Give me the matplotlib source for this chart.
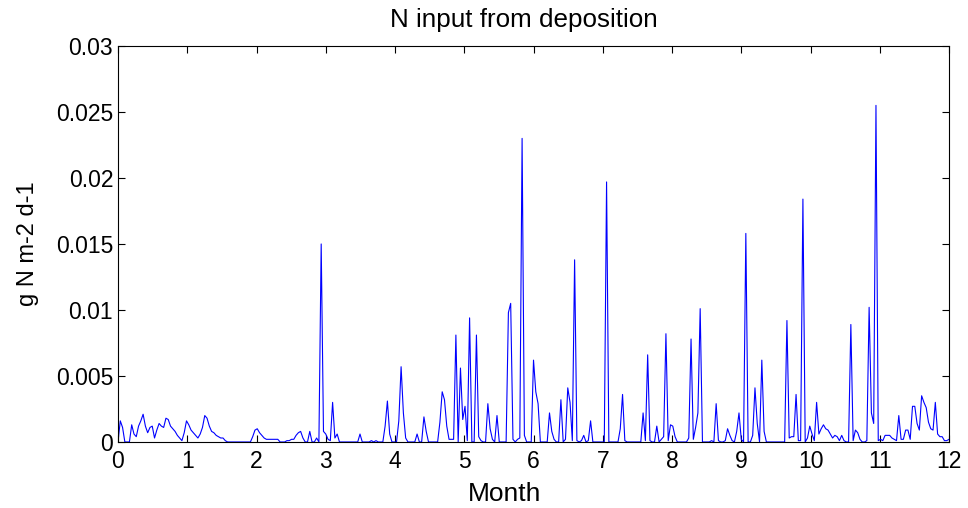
import numpy as np
import matplotlib
matplotlib.use('Agg')
import matplotlib.pyplot as plt

# daily N deposition (g N m-2 d-1), days with no deposition are zero
wet_days = [1, 2, 6, 7, 8, 9, 10, 11, 12, 13, 14, 15, 16, 17, 18, 19, 20, 21, 22,
            23, 24, 25, 26, 27, 28, 29, 30, 31, 32, 33, 34, 35, 36, 37, 38, 39,
            40, 41, 42, 43, 44, 45, 46, 47, 59, 60, 61, 62, 63, 64, 65, 66, 67,
            68, 69, 70, 74, 75, 76, 77, 78, 79, 80, 81, 84, 87, 89, 90, 91, 92,
            93, 94, 95, 96, 106, 111, 113, 117, 118, 119, 123, 124, 125, 126,
            131, 134, 135, 141, 142, 143, 144, 145, 146, 147, 148, 150, 151, 152,
            153, 154, 157, 158, 159, 162, 163, 164, 166, 171, 172, 173, 175, 176,
            177, 178, 182, 183, 184, 189, 190, 191, 194, 196, 197, 198, 199, 200,
            201, 203, 204, 206, 207, 214, 220, 221, 222, 230, 231, 232, 233, 236,
            238, 239, 240, 241, 242, 243, 244, 250, 251, 252, 253, 254, 255, 260,
            262, 263, 266, 267, 268, 269, 271, 272, 273, 275, 278, 279, 280, 282,
            283, 293, 294, 295, 296, 297, 298, 299, 300, 302, 303, 304, 305, 306,
            307, 308, 309, 310, 311, 312, 313, 314, 315, 316, 317, 318, 321, 322,
            323, 324, 325, 328, 329, 330, 331, 332, 333, 334, 335, 336, 337, 338,
            339, 340, 341, 342, 343, 344, 345, 346, 347, 348, 349, 350, 351, 352,
            353, 354, 355, 356, 357, 358, 359, 360, 361, 362, 363, 364]
n_dep = [0.0016, 0.0011, 0.0013, 0.0006, 0.0004, 0.0012, 0.0016, 0.0021, 0.0012,
         0.0007, 0.0011, 0.0012, 0.0003, 0.0009, 0.0014, 0.0012, 0.0011, 0.0018,
         0.0017, 0.0012, 0.0010, 0.0008, 0.0005, 0.0003, 0.0001, 0.0007, 0.0016,
         0.0013, 0.0009, 0.0007, 0.0005, 0.0003, 0.0006, 0.0011, 0.0020, 0.0018,
         0.0012, 0.0008, 0.0007, 0.0005, 0.0004, 0.0003, 0.0003, 0.0001, 0.0004,
         0.0009, 0.0010, 0.0007, 0.0005, 0.0003, 0.0002, 0.0002, 0.0002, 0.0002,
         0.0002, 0.0002, 0.0001, 0.0001, 0.0002, 0.0002, 0.0005, 0.0007, 0.0008,
         0.0003, 0.0008, 0.0003, 0.0150, 0.0008, 0.0006, 0.0002, 0.0001, 0.0030,
         0.0003, 0.0006, 0.0006, 0.0001, 0.0001, 0.0012, 0.0031, 0.0006, 0.0016,
         0.0057, 0.0022, 0.0003, 0.0006, 0.0019, 0.0008, 0.0015, 0.0038, 0.0032,
         0.0012, 0.0002, 0.0002, 0.0002, 0.0081, 0.0056, 0.0017, 0.0027, 0.0001,
         0.0094, 0.0081, 0.0004, 0.0001, 0.0029, 0.0010, 0.0002, 0.0020, 0.0098,
         0.0105, 0.0002, 0.0002, 0.0003, 0.0230, 0.0005, 0.0062, 0.0038, 0.0029,
         0.0022, 0.0008, 0.0002, 0.0032, 0.0002, 0.0041, 0.0030, 0.0001, 0.0138,
         0.0001, 0.0001, 0.0005, 0.0001, 0.0016, 0.0197, 0.0010, 0.0036, 0.0001,
         0.0022, 0.0001, 0.0066, 0.0001, 0.0012, 0.0002, 0.0004, 0.0082, 0.0001,
         0.0013, 0.0012, 0.0004, 0.0003, 0.0078, 0.0002, 0.0011, 0.0022, 0.0101,
         0.0001, 0.0029, 0.0001, 0.0001, 0.0010, 0.0005, 0.0001, 0.0008, 0.0022,
         0.0002, 0.0158, 0.0005, 0.0041, 0.0014, 0.0062, 0.0008, 0.0092, 0.0003,
         0.0004, 0.0004, 0.0036, 0.0001, 0.0001, 0.0184, 0.0003, 0.0012, 0.0006,
         0.0001, 0.0030, 0.0006, 0.0010, 0.0013, 0.0010, 0.0009, 0.0006, 0.0003,
         0.0005, 0.0004, 0.0001, 0.0005, 0.0001, 0.0089, 0.0001, 0.0009, 0.0007,
         0.0002, 0.0001, 0.0102, 0.0022, 0.0014, 0.0255, 0.0001, 0.0002, 0.0001,
         0.0005, 0.0005, 0.0005, 0.0003, 0.0002, 0.0001, 0.0020, 0.0002, 0.0002,
         0.0009, 0.0009, 0.0002, 0.0027, 0.0027, 0.0014, 0.0009, 0.0035, 0.0030,
         0.0026, 0.0015, 0.0010, 0.0009, 0.0030, 0.0006, 0.0004, 0.0004, 0.0001,
         0.0001, 0.0002]

ndays = 365
dep = np.zeros(ndays)
dep[wet_days] = n_dep
month = np.arange(ndays) / (ndays - 1) * 12

plt.rcParams['font.family'] = ['Liberation Sans', 'DejaVu Sans']
fig = plt.figure(figsize=(9.68, 5.08), dpi=100)
ax = fig.add_axes([0.1219, 0.130, 0.8585, 0.7795])
ax.plot(month, dep, color='#0000ff', linewidth=0.8)

ax.set_xlim(0, 12)
ax.set_ylim(0, 0.03)
ax.set_xticks(range(13))
ax.set_yticks([0, 0.005, 0.01, 0.015, 0.02, 0.025, 0.03])
ax.set_yticklabels(['0', '0.005', '0.01', '0.015', '0.02', '0.025', '0.03'])
ax.tick_params(direction='in', top=True, right=True, labelsize=16.5, length=5)
ax.tick_params(axis='x', pad=6)
ax.set_xlabel('Month', fontsize=19, labelpad=6, x=0.465)
ax.set_ylabel('g N m-2 d-1', fontsize=17, labelpad=12)
ax.set_title('N input from deposition', fontsize=18.7, pad=14, x=0.488)

fig.savefig('out.png', dpi=100)
